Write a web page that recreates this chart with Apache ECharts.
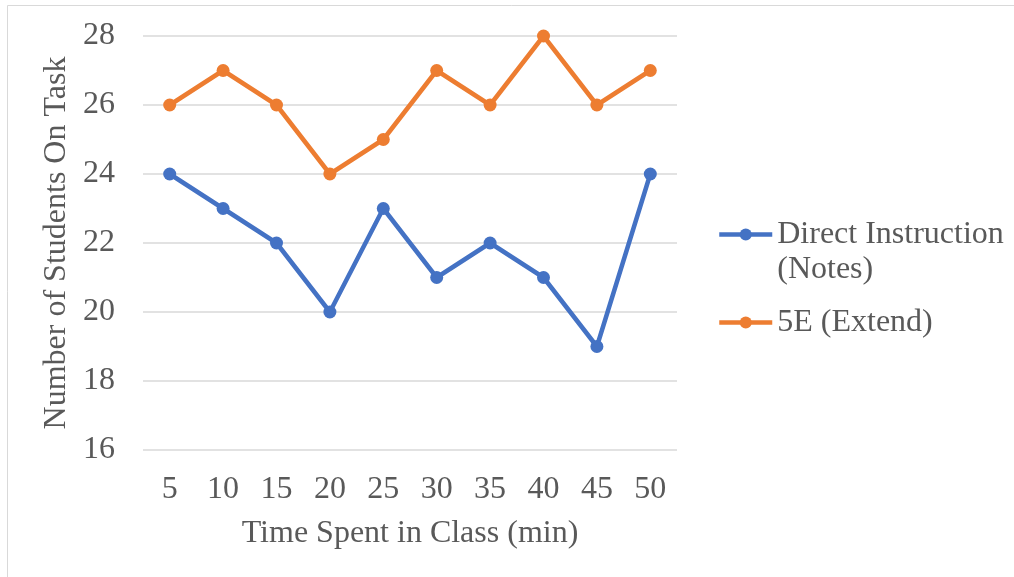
<!DOCTYPE html>
<html>
<head>
<meta charset="utf-8">
<script src="https://cdn.jsdelivr.net/npm/echarts@6/dist/echarts.min.js"></script>
<style>
  html, body { margin: 0; padding: 0; background: #fff; }
  #chart { width: 1014px; height: 577px; }
</style>
</head>
<body>
<div id="chart"></div>
<script>
// Minutes into the lesson
const timeLabels = ['5', '10', '15', '20', '25', '30', '35', '40', '45', '50'];
// Students on task at each checkpoint
const directInstruction = [24, 23, 22, 20, 23, 21, 22, 21, 19, 24];
const fiveEExtend = [26, 27, 26, 24, 25, 27, 26, 28, 26, 27];

const FONT = '"Liberation Serif", "Times New Roman", serif';
const TEXT = '#595959';
const BLUE = '#4472C4';
const ORANGE = '#ED7D31';
const DIRECT_NAME = 'Direct Instruction\n(Notes)';

const chart = echarts.init(document.getElementById('chart'));
chart.setOption({
  backgroundColor: '#fff',
  animation: false,
  textStyle: { fontFamily: FONT },
  graphic: [{
    type: 'rect',
    shape: { x: 7.5, y: 5.5, width: 1020, height: 600 },
    style: { fill: 'none', stroke: '#D9D9D9', lineWidth: 1 },
    silent: true
  }],
  grid: { left: 143, right: 337, top: 36, bottom: 127 },
  legend: {
    orient: 'vertical',
    left: 717,
    top: 182,
    padding: 0,
    itemWidth: 53,
    itemHeight: 15,
    itemGap: 18,
    lineStyle: { width: 4.5 },
    // blank first line keeps the marker level with the first text line
    formatter: name => (name === DIRECT_NAME ? '\n' + name : name),
    textStyle: { fontFamily: FONT, fontSize: 32, color: TEXT, lineHeight: 35 },
    data: [DIRECT_NAME, '5E (Extend)']
  },
  xAxis: {
    type: 'category',
    data: timeLabels,
    boundaryGap: true,
    axisLine: { show: false },
    axisTick: { show: false },
    axisLabel: { fontFamily: FONT, fontSize: 32, color: TEXT, margin: 24 },
    name: 'Time Spent in Class (min)',
    nameLocation: 'middle',
    nameGap: 68,
    nameTextStyle: { fontFamily: FONT, fontSize: 32, color: TEXT }
  },
  yAxis: {
    type: 'value',
    min: 16,
    max: 28,
    interval: 2,
    axisLine: { show: false },
    axisTick: { show: false },
    splitLine: { lineStyle: { color: '#D9D9D9', width: 1.5 } },
    axisLabel: { fontFamily: FONT, fontSize: 32, color: TEXT, margin: 28 },
    name: 'Number of Students On Task',
    nameLocation: 'middle',
    nameGap: 63,
    nameTextStyle: { fontFamily: FONT, fontSize: 32, color: TEXT }
  },
  series: [
    {
      name: DIRECT_NAME,
      type: 'line',
      data: directInstruction,
      symbol: 'circle',
      symbolSize: 13,
      lineStyle: { color: BLUE, width: 4.5 },
      itemStyle: { color: BLUE }
    },
    {
      name: '5E (Extend)',
      type: 'line',
      data: fiveEExtend,
      symbol: 'circle',
      symbolSize: 13,
      lineStyle: { color: ORANGE, width: 4.5 },
      itemStyle: { color: ORANGE }
    }
  ]
});
</script>
</body>
</html>
